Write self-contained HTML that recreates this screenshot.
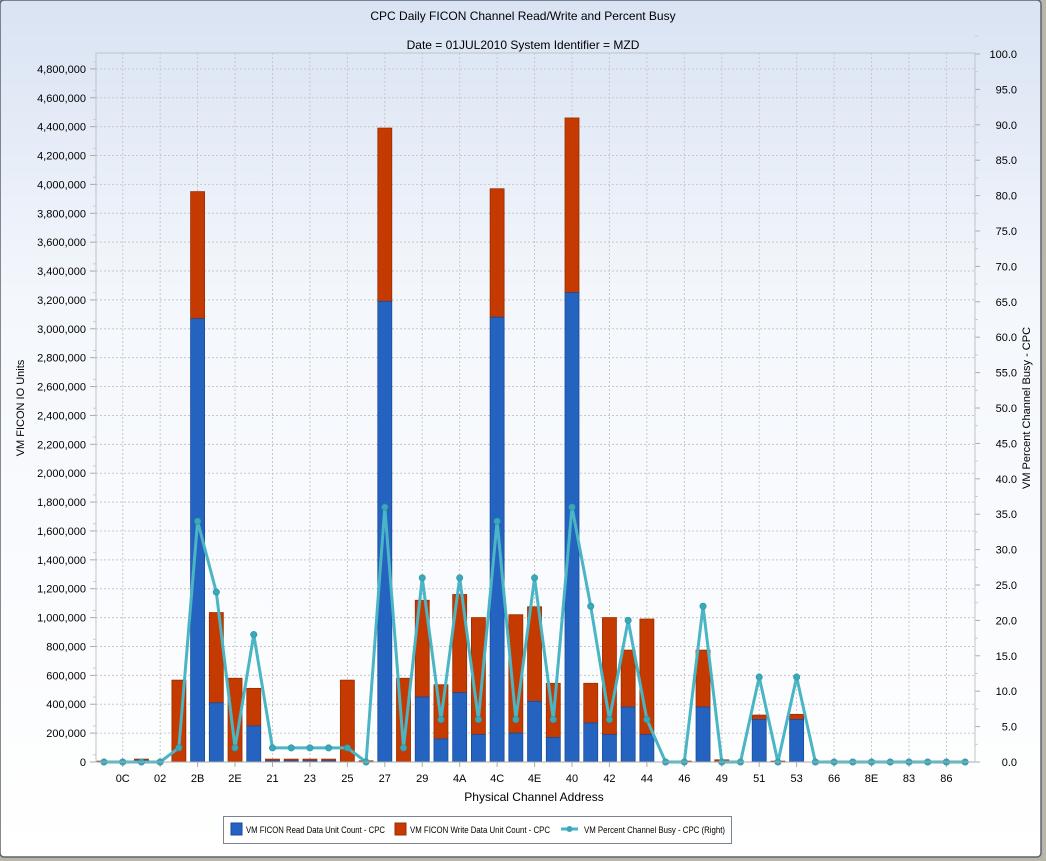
<!DOCTYPE html>
<html><head><meta charset="utf-8">
<style>
html,body{margin:0;padding:0;width:1046px;height:861px;overflow:hidden;background:#b9b5a9;}
svg{display:block;font-family:"Liberation Sans",sans-serif;}
</style></head>
<body>
<svg id="s" width="1046" height="861" xmlns="http://www.w3.org/2000/svg">
<defs>
<linearGradient id="bg" x1="0" y1="0" x2="0" y2="1">
<stop offset="0" stop-color="#d9e3f3"/><stop offset="0.35" stop-color="#f4f7fc"/><stop offset="1" stop-color="#ffffff"/>
</linearGradient>
</defs>
<rect x="0" y="0" width="1041" height="857" rx="4" fill="url(#bg)" stroke="#5a6470" stroke-width="1.5"/>
<text x="523" y="20" font-size="12" text-anchor="middle" fill="#000">CPC Daily FICON Channel Read/Write and Percent Busy</text>
<text x="523" y="49" font-size="12" text-anchor="middle" fill="#000">Date = 01JUL2010 System Identifier = MZD</text>
<g id="g"></g>
<text x="534" y="801" font-size="12" text-anchor="middle">Physical Channel Address</text>
<text transform="translate(24,408) rotate(-90)" font-size="11" text-anchor="middle">VM FICON IO Units</text>
<text transform="translate(1030,408) rotate(-90)" font-size="11" text-anchor="middle">VM Percent Channel Busy - CPC</text>
<rect x="223.5" y="816.5" width="508" height="27" fill="#fff" stroke="#7a8590"/>
<rect x="231" y="823" width="11" height="12" fill="#2563c0" stroke="#1a4a9a"/>
<text x="246" y="833" font-size="9" textLength="139" lengthAdjust="spacingAndGlyphs">VM FICON Read Data Unit Count - CPC</text>
<rect x="395" y="823" width="11" height="12" fill="#c43a00" stroke="#9a2d00"/>
<text x="410" y="833" font-size="9" textLength="140" lengthAdjust="spacingAndGlyphs">VM FICON Write Data Unit Count - CPC</text>
<line x1="561" y1="829" x2="578" y2="829" stroke="#4ab5c4" stroke-width="3"/>
<circle cx="569.5" cy="829" r="3" fill="#3aa8b8"/>
<text x="584" y="833" font-size="9" textLength="141" lengthAdjust="spacingAndGlyphs">VM Percent Channel Busy - CPC (Right)</text>
</svg>
<script>
const g=document.getElementById('g');let h='';
const L=96,R=975,T=53,B=762;
const yL=v=>B-v/1e6*144.4, yR=v=>B-v*7.08, cx=i=>104+18.72*i;
for(let k=0;k<=24;k++){const y=yL(k*200000);
 h+=`<line x1="${L}" y1="${y}" x2="${R}" y2="${y}" stroke="#c8c8c8" stroke-dasharray="2,2"/>`;
 h+=`<line x1="${L-6}" y1="${y}" x2="${L}" y2="${y}" stroke="#aaa"/>`;
 h+=`<line x1="${L-3}" y1="${y-7.2}" x2="${L}" y2="${y-7.2}" stroke="#ccc"/>`;
 h+=`<text x="${L-10}" y="${y+4}" font-size="11" text-anchor="end">${(k*200000).toLocaleString('en-US')}</text>`;}
for(let k=0;k<=20;k++){const y=yR(k*5);
 h+=`<line x1="${R}" y1="${y}" x2="${R+5}" y2="${y}" stroke="#aaa"/>`;
 h+=`<line x1="${R}" y1="${y-17.7}" x2="${R+3}" y2="${y-17.7}" stroke="#ccc"/>`;
 h+=`<text x="${1017}" y="${y+4}" font-size="11" text-anchor="end">${(k*5).toFixed(1)}</text>`;}
const labs=['0C','02','2B','2E','21','23','25','27','29','4A','4C','4E','40','42','44','46','49','51','53','66','8E','83','86'];
labs.forEach((l,j)=>{const x=cx(1+2*j);
 h+=`<line x1="${x}" y1="${T}" x2="${x}" y2="${B}" stroke="#c8c8c8" stroke-dasharray="2,2"/>`;
 h+=`<line x1="${x}" y1="${B}" x2="${x}" y2="${B+5}" stroke="#aaa"/>`;
 h+=`<text x="${x}" y="${B+20}" font-size="11" text-anchor="middle">${l}</text>`;});
h+=`<rect x="${L}" y="${T}" width="${R-L}" height="${B-T}" fill="none" stroke="#c0c4ca"/>`;
const tot={2:20000,4:567000,5:3950000,6:1035000,7:580000,8:510000,9:20000,10:20000,11:20000,12:20000,13:567000,14:8000,15:4390000,16:580000,17:1120000,18:535000,19:1160000,20:1000000,21:3970000,22:1020000,23:1075000,24:545000,25:4460000,26:545000,27:1000000,28:775000,29:990000,31:6000,32:775000,33:15000,35:325000,36:6000,37:330000,0:6000};
const blu={2:12000,5:3070000,6:410000,8:250000,9:8000,10:8000,11:8000,12:8000,15:3190000,17:450000,18:160000,19:480000,20:190000,21:3080000,22:200000,23:420000,24:170000,25:3250000,26:270000,27:190000,28:380000,29:190000,32:380000,35:295000,37:295000};
for(const i in tot){const x=cx(+i)-7,t=tot[i],b=blu[i]||0;
 if(t>b)h+=`<rect x="${x}" y="${yL(t)}" width="14" height="${yL(b)-yL(t)}" fill="#c43a00" stroke="#9a2d00" stroke-width="0.8"/>`;
 if(b>0)h+=`<rect x="${x}" y="${yL(b)}" width="14" height="${B-yL(b)}" fill="#2563c0" stroke="#1a4a9a" stroke-width="0.8"/>`;}
const p=[0,0,0,0,2,34,24,2,18,2,2,2,2,2,0,36,2,26,6,26,6,34,6,26,6,36,22,6,20,6,0,0,22,0,0,12,0,12,0,0,0,0,0,0,0,0,0];
h+=`<polyline fill="none" stroke="#4ab5c4" stroke-width="3" stroke-linejoin="round" points="${p.map((v,i)=>cx(i)+','+yR(v)).join(' ')}"/>`;
p.forEach((v,i)=>h+=`<circle cx="${cx(i)}" cy="${yR(v)}" r="3.2" fill="#3aa8b8" stroke="#2a95a5" stroke-width="0.6"/>`);
h+=`<line x1="${L}" y1="${B}" x2="${R}" y2="${B}" stroke="#aaa"/>`;
g.innerHTML=h;
</script>
</body></html>
